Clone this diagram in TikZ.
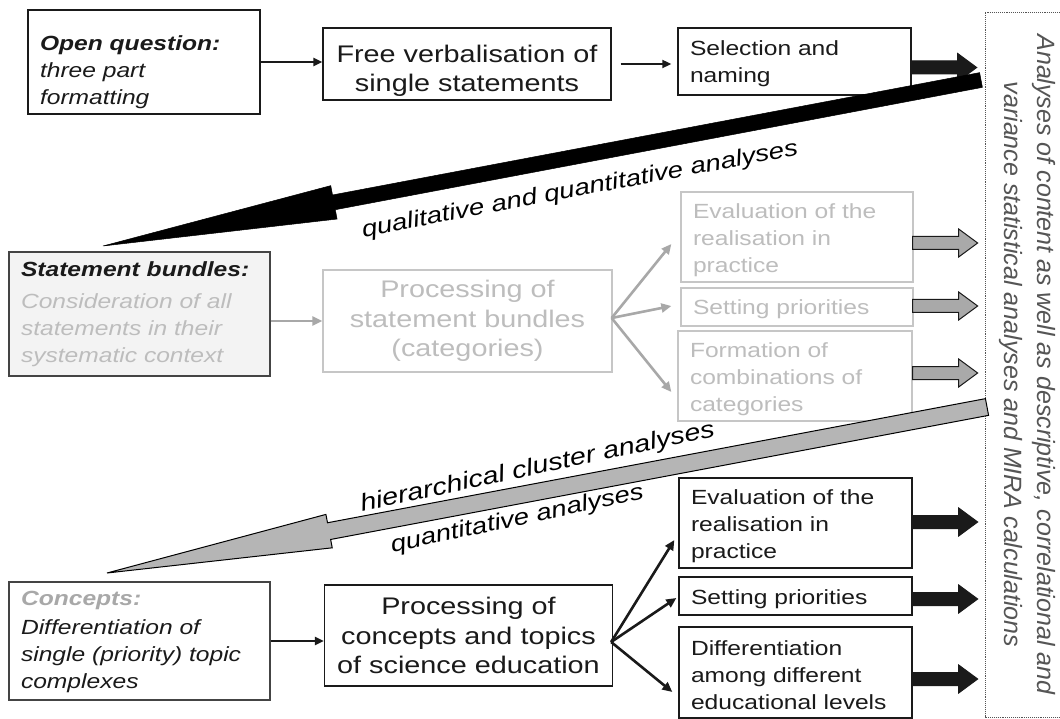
\documentclass[tikz,border=0pt]{standalone}
\usepackage{fontspec}
\setmainfont{Liberation Sans}[FakeStretch=1.2]
\newfontfamily\vfont{Liberation Sans}
\usetikzlibrary{arrows.meta,calc}

\definecolor{ink}{HTML}{1A1A1A}
\definecolor{lgt}{HTML}{BDBDBD}
\definecolor{lgtline}{HTML}{C6C6C6}
\definecolor{midg}{HTML}{A8A8A8}
\definecolor{fatgrey}{HTML}{A9A9A9}
\definecolor{biggrey}{HTML}{B5B5B5}
\definecolor{vtext}{HTML}{555555}
\definecolor{sbfill}{HTML}{F3F3F3}
\definecolor{sbline}{HTML}{444444}

\newcommand{\fs}[2]{\fontsize{#1}{#2}\selectfont}
\newcommand{\lift}[1]{\rule{0pt}{#1}}
% fat block arrow, starting at the middle of its tail end
\newcommand{\fatarw}[2]{\draw[#1] #2 ++(0,-6.5) -- ++(46,0) -- ++(0,-7.5) -- ++(19,14) -- ++(-19,14) -- ++(0,-7.5) -- ++(-46,0) -- cycle;}
% long diagonal arrow: style, tail, tip, head length, head half width, shaft half width
\newcommand{\bigarw}[6]{%
  \coordinate (baB) at ($(#3)!#4!(#2)$);
  \draw[#1] (#3) -- ($(baB)!#5!90:(#2)$) -- ($(baB)!#6!90:(#2)$) -- ($(#2)!#6!-90:(#3)$)
    -- ($(#2)!#6!90:(#3)$) -- ($(baB)!#6!-90:(#2)$) -- ($(baB)!#5!-90:(#2)$) -- cycle;}

\begin{document}
\begin{tikzpicture}[x=1pt,y=-1pt,
  box/.style={rectangle, draw=ink, line width=1.3pt, inner ysep=2pt, text=ink},
  lbox/.style={box, align=left, inner xsep=12pt},
  cbox/.style={box, align=center, inner xsep=4pt},
  gbox/.style={draw=lgtline, text=lgt},
  small/.style={font=\fs{20.5}{27}},
  big/.style={font=\fs{24}{29.5}},
  conn/.style={draw=ink, line width=2.2pt, -{Triangle[length=9pt,width=8pt]}},
  gconn/.style={draw=midg, line width=2.6pt, -{Triangle[length=10pt,width=9pt]}},
  kconn/.style={draw=ink, line width=2.6pt, -{Triangle[length=10pt,width=9pt]}},
  lbl/.style={font=\fs{23}{26}\itshape, text=black, inner sep=0pt},
  fatg/.style={draw=ink, fill=fatgrey, line width=1pt},
  fatk/.style={draw=ink, fill=ink, line width=1pt},
]
\useasboundingbox (0,0) rectangle (1060,719);
\fill[white] (0,0) rectangle (1060,719);

% ---------- top row ----------
\node[lbox, small, line width=1.6pt, minimum width=232pt, minimum height=104pt, text width=208pt] (oq) at (144,62)
  {\lift{35pt}\textbf{\textit{Open question:}}\\ \textit{three part}\\ \textit{formatting}};
\node[cbox, big, minimum width=288pt, minimum height=72pt, text width=280pt] (fv) at (467,64)
  {\lift{31pt}Free verbalisation of\\single statements};
\node[lbox, small, minimum width=233pt, minimum height=67pt, text width=209pt] (sn) at (794.5,61.5)
  {\lift{20pt}Selection and\\naming};

% ---------- vertical box ----------
\node[draw=vtext, densely dotted, line width=0.9pt, rotate=-90, minimum width=705pt,
  minimum height=84pt, align=center, text=vtext, font=\vfont\fs{25}{33}\itshape, inner sep=0pt] (an) at (1027,364.5)
  {Analyses of content as well as descriptive, correlational and\\variance statistical analyses and MIRA calculations};

% ---------- middle row ----------
\node[lbox, small, fill=sbfill, draw=sbline, minimum width=261pt, minimum height=124pt, text width=237pt] (sb) at (139.5,314)
  {\textbf{\textit{Statement bundles:}}\\[5pt]
   \textcolor{lgt}{\textit{Consideration of all}}\\
   \textcolor{lgt}{\textit{statements in their}}\\
   \textcolor{lgt}{\textit{systematic context}}};
\node[cbox, big, gbox, minimum width=289pt, minimum height=102pt, text width=280pt] (ps) at (467.5,321)
  {Processing of\\statement bundles\\(categories)};
\node[lbox, small, gbox, minimum width=232pt, minimum height=90pt, text width=208pt] (e1) at (797,237)
  {\lift{22pt}Evaluation of the\\realisation in\\practice};
\node[lbox, small, gbox, minimum width=232pt, minimum height=38pt, text width=208pt] (p1) at (797,307)
  {\lift{19pt}Setting priorities};
\node[lbox, small, gbox, minimum width=234pt, minimum height=90pt, text width=210pt] (f1) at (795,376)
  {\lift{21pt}Formation of\\combinations of\\categories};

% ---------- bottom row ----------
\node[lbox, small, draw=sbline, minimum width=261pt, minimum height=118pt, text width=237pt] (cc) at (139.5,641)
  {\lift{17pt}\textcolor{midg}{\textbf{\textit{Concepts:}}}\\[2pt]
   \textit{Differentiation of}\\
   \textit{single (priority) topic}\\
   \textit{complexes}};
\node[cbox, big, minimum width=287pt, minimum height=101pt, text width=280pt] (pc) at (468.5,635.5)
  {Processing of\\concepts and topics\\of science education};
\node[lbox, small, minimum width=233pt, minimum height=90pt, text width=209pt] (e2) at (795.5,523)
  {\lift{21pt}Evaluation of the\\realisation in\\practice};
\node[lbox, small, minimum width=233pt, minimum height=38pt, text width=209pt] (p2) at (795.5,596)
  {\lift{21pt}Setting priorities};
\node[lbox, small, minimum width=233pt, minimum height=91pt, text width=209pt] (d2) at (795.5,672.5)
  {\lift{21pt}Differentiation\\among different\\educational levels};

% ---------- thin connectors ----------
\draw[conn] (oq.east) -- (oq.east -| fv.west);
\draw[conn, line width=1.7pt, shorten <=9pt, shorten >=6pt] (fv.east) -- (fv.east -| sn.west);
\draw[gconn] (sb.east |- ps.west) -- (ps.west);
\draw[conn] (cc.east) -- (cc.east -| pc.west);

\coordinate (psf) at ($(ps.east)+(-1,-3)$);
\draw[gconn] (psf) -- ($(e1.west)+(-9,7)$);
\draw[gconn] (psf) -- ($(p1.west)+(-9,-1)$);
\draw[gconn] (psf) -- ($(f1.west)+(-6,16)$);

\coordinate (pcf) at ($(pc.east)+(-2,6.5)$);
\draw[kconn] (pcf) -- ($(e2.west)+(-4,17)$);
\draw[kconn] (pcf) -- ($(p2.west)+(-2,2)$);
\draw[kconn] (pcf) -- ($(d2.west)+(-6,19.5)$);

% ---------- fat block arrows ----------
\fatarw{fatk}{($(sn.east)+(0,6)$)}
\fatarw{fatg}{($(e1.east)+(-1,6)$)}
\fatarw{fatg}{($(p1.east)+(-1,-1)$)}
\fatarw{fatg}{($(f1.east)+(0,-3)$)}
\fatarw{fatk}{($(e2.east)+(0,-1)$)}
\fatarw{fatk}{($(p2.east)+(0,3)$)}
\fatarw{fatk}{($(d2.east)+(0,6.5)$)}

% ---------- long diagonal arrows ----------
\coordinate (kTail) at (981,80);
\coordinate (kTip) at (103,246);
\bigarw{fill=black, draw=black, line width=0.5pt}{kTail}{kTip}{235pt}{17pt}{7.5pt}
\coordinate (gTail) at (987,407);
\coordinate (gTip) at (107,573);
\bigarw{fill=biggrey, draw=black, line width=1pt, line join=miter}{gTail}{gTip}{226pt}{17pt}{8.5pt}

% ---------- arrow labels ----------
\node[lbl, rotate=10.7] (lq) at (580,190) {qualitative and quantitative analyses};
\node[lbl, font=\fs{24}{26}\itshape, rotate=12, anchor=south] (lh) at (540,479) {hierarchical cluster analyses};
\node[lbl, rotate=12, anchor=north] (lqa) at (515,509) {quantitative analyses};
\end{tikzpicture}
\end{document}
